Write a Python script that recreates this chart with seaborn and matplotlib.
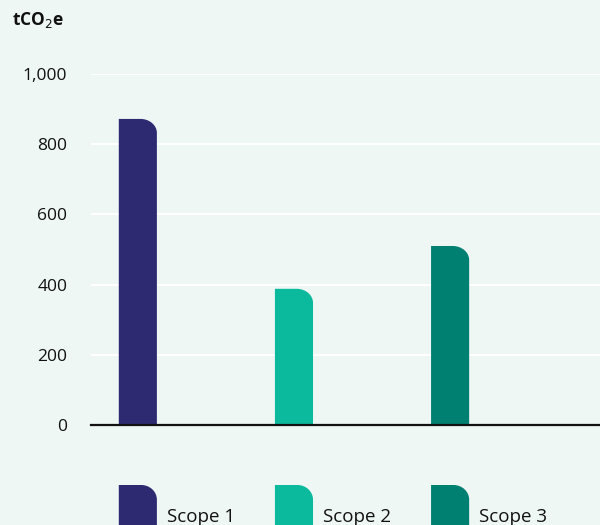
import seaborn as sns
import matplotlib.pyplot as plt
import pandas as pd
import numpy as np
from matplotlib.path import Path
from matplotlib.patches import PathPatch
import matplotlib.transforms as mtransforms
from matplotlib.ticker import FuncFormatter

scopes = ['Scope 1', 'Scope 2', 'Scope 3']
emissions = [872, 388, 510]
colors = ['#2E2A72', '#0BB99C', '#008070']

bg = '#EEF7F4'
sns.set_style("white")
plt.rcParams['font.family'] = ['Open Sans', 'DejaVu Sans']

df = pd.DataFrame({'scope': scopes, 'tco2e': emissions})

fig = plt.figure(figsize=(6, 5.25), dpi=100, facecolor=bg)
ax = fig.add_axes([91/600, 1-425/525, 1-91/600, 351/525])
ax.set_facecolor(bg)
sns.barplot(data=df, x='scope', y='tco2e', hue='scope', palette=colors,
            width=0.244, legend=False, ax=ax, saturation=1)
ax.set_xlim(-0.3, 2.96)
ax.set_ylim(0, 1000)


def round_top_right(x0, x1, y0, y1, rx, ry):
    # rectangle with only the upper right corner rounded
    k = 0.5523
    verts = [(x0, y0), (x0, y1), (x1 - rx, y1),
             (x1 - rx + k*rx, y1), (x1, y1 - ry + k*ry), (x1, y1 - ry),
             (x1, y0), (x0, y0)]
    codes = [Path.MOVETO, Path.LINETO, Path.LINETO,
             Path.CURVE4, Path.CURVE4, Path.CURVE4,
             Path.LINETO, Path.CLOSEPOLY]
    return Path(verts, codes)


# swap seaborn rectangles for rounded ones
rx = 0.105
ry = 40
for p, c in zip(list(ax.patches), colors):
    x0, w, h = p.get_x(), p.get_width(), p.get_height()
    p.remove()
    ax.add_patch(PathPatch(round_top_right(x0, x0 + w, 0, h, rx, ry),
                           facecolor=c, edgecolor='none', zorder=2))

ax.set_yticks(np.arange(0, 1001, 200))
ax.yaxis.set_major_formatter(FuncFormatter(lambda v, pos: f'{int(v):,}'))
ax.grid(axis='y', color='white', linewidth=1.5, zorder=0)
ax.set_axisbelow(True)
ax.set_xticks([])
ax.set_xlabel('')
ax.set_ylabel('')
ax.tick_params(axis='y', length=0, pad=17, labelsize=12.5, labelcolor='#111111')
sns.despine(ax=ax, left=True, top=True, right=True, bottom=False)
ax.spines['bottom'].set_color('#111111')
ax.spines['bottom'].set_linewidth(1.6)
ax.spines['bottom'].set_zorder(3)

fig.text(12/600, 1-25/525, 'tCO$_2$e', fontsize=12.5, fontweight='bold',
         color='#111111', va='baseline')

# legend swatches under each bar
trans = mtransforms.blended_transform_factory(ax.transData, fig.transFigure)
for i, (s, c) in enumerate(zip(scopes, colors)):
    x0 = i - 0.122
    x1 = i + 0.122
    patch = PathPatch(round_top_right(x0, x1, -0.01, 1-485/525, 0.1, 0.028),
                      facecolor=c, edgecolor='none', transform=trans, clip_on=False)
    fig.add_artist(patch)
    ax.text(x1 + 0.065, 1-522/525, s, fontsize=13.5, color='#111111',
            transform=trans, va='baseline', ha='left', clip_on=False)

fig.savefig('out.png', dpi=100, facecolor=bg)
